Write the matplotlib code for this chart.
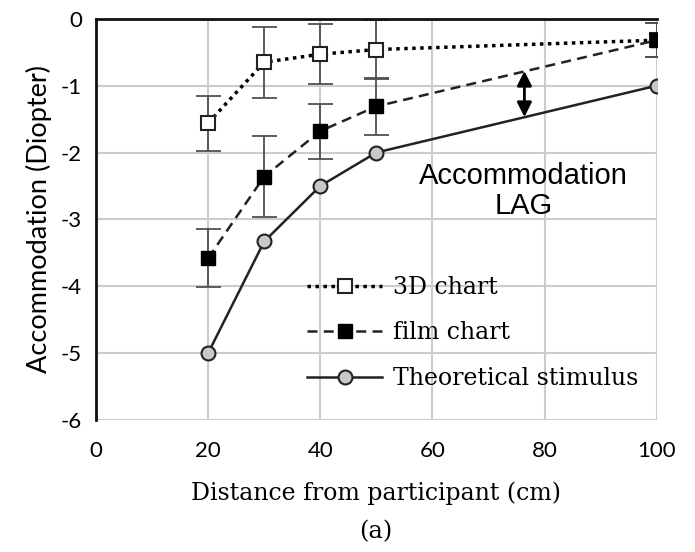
import matplotlib.pyplot as plt

plt.rcParams['axes.unicode_minus'] = False

# data
distance = [20, 30, 40, 50, 100]
chart_3d = [-1.56, -0.65, -0.53, -0.46, -0.32]
chart_3d_err = [0.41, 0.53, 0.45, 0.44, 0.25]
film_chart = [-3.58, -2.36, -1.68, -1.31, -0.32]
film_chart_err = [0.43, 0.60, 0.41, 0.43, 0.25]
theoretical = [-5.0, -3.33, -2.5, -2.0, -1.0]

x_ticks = [0, 20, 40, 60, 80, 100]
y_ticks = [0, -1, -2, -3, -4, -5, -6]

fig = plt.figure(figsize=(6.95, 5.52), dpi=100)
ax = fig.add_axes([0.138, 0.239, 0.807, 0.727])

# error bars
ax.errorbar(distance, chart_3d, yerr=chart_3d_err, fmt='none', ecolor='#505050',
            elinewidth=1.3, capsize=9, capthick=1.3, zorder=2)
ax.errorbar(distance, film_chart, yerr=film_chart_err, fmt='none', ecolor='#505050',
            elinewidth=1.3, capsize=9, capthick=1.3, zorder=2)

# series
ax.plot(distance, chart_3d, linestyle=(0, (1, 1.3)), color='black', lw=2.5,
        marker='s', markersize=10.5, markerfacecolor='white', markeredgecolor='#222222',
        markeredgewidth=1.5, label='3D chart', zorder=4)
ax.plot(distance, film_chart, linestyle=(0, (4, 2.5)), color='#222222', lw=1.8,
        marker='s', markersize=10.5, markerfacecolor='black', markeredgecolor='black',
        label='film chart', zorder=4)
ax.plot(distance, theoretical, linestyle='-', color='#222222', lw=1.8,
        marker='o', markersize=10, markerfacecolor='#c8c8c8', markeredgecolor='#222222',
        markeredgewidth=1.5, label='Theoretical stimulus', zorder=4)

# accommodation lag arrow
ax.annotate('', xy=(76.4, -0.78), xytext=(76.4, -1.47),
            arrowprops=dict(arrowstyle='<|-|>', color='black', lw=2, mutation_scale=22,
                            shrinkA=0, shrinkB=0), zorder=5)
ax.text(76.3, -2.58, 'Accommodation\nLAG', ha='center', va='center',
        fontsize=21, family='Liberation Sans', linespacing=1.1)

ax.set_xlim(0, 100)
ax.set_ylim(-6, 0)
ax.set_xticks(x_ticks)
ax.set_yticks(y_ticks)
ax.tick_params(length=0, labelsize=16)
ax.tick_params(axis='x', pad=15)
ax.tick_params(axis='y', pad=10)
for lab in ax.get_xticklabels() + ax.get_yticklabels():
    lab.set_family('Lato')

ax.grid(True, color='#cccccc', lw=1.5)
ax.set_axisbelow(True)
for side in ['bottom', 'right']:
    ax.spines[side].set_visible(False)
for side in ['left', 'top']:
    ax.spines[side].set_linewidth(2)
    ax.spines[side].set_color('#111111')

ax.set_xlabel('Distance from participant (cm)', fontsize=17,
              family='DejaVu Serif', labelpad=15)
ax.set_ylabel('Accommodation (Diopter)', fontsize=19.5, family='Lato', labelpad=6)

ax.legend(loc='center left', bbox_to_anchor=(0.376, 0.217), frameon=False,
          borderpad=0, borderaxespad=0, handlelength=3.2, handletextpad=0.45,
          labelspacing=0.95, prop={'family': 'DejaVu Serif', 'size': 17})

fig.text(0.54, 0.036, '(a)', ha='center', va='center', fontsize=17.5,
         family='DejaVu Serif')

fig.savefig('out.png', dpi=100)
